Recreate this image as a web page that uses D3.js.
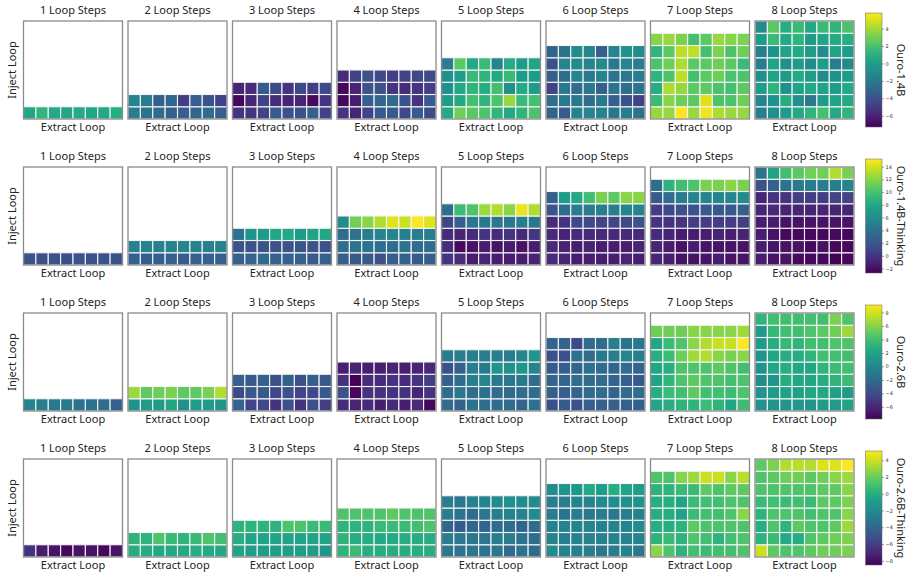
<!DOCTYPE html>
<html>
<head>
<meta charset="utf-8">
<script src="https://cdn.jsdelivr.net/npm/d3@7"></script>
<style>
  body { margin: 0; background: #fff; }
  svg { font-family: "Noto Sans", "Open Sans", sans-serif; }
</style>
</head>
<body>
<svg width="914" height="578"></svg>
<script>
// Each model: 8 panels (1..8 loop steps); each panel lists inject-loop rows
// from bottom to top, every row holding 8 extract-loop values.
const stepLabels = ["1 Loop Steps", "2 Loop Steps", "3 Loop Steps", "4 Loop Steps",
    "5 Loop Steps", "6 Loop Steps", "7 Loop Steps", "8 Loop Steps"];
const modelNames = ["Ouro-1.4B", "Ouro-1.4B-Thinking", "Ouro-2.6B", "Ouro-2.6B-Thinking"];
const colorDomains = [[-7.3, 5.8], [-2.7, 15.2], [-7.8, 9.1], [-8.5, 5.1]];

const ouro14B = [
    [[0.4, 1.2, 0.6, 0.5, 0.7, 0.5, 0.6, 0.8]],
    [[-1.8, -2.3, -2.7, -3.4, -3.4, -3.1, -2.7, -3.4],
     [-1.4, -1.8, -3.4, -3.0, -4.9, -3.4, -4.0, -4.7]],
    [[-5.3, -5.3, -4.7, -3.6, -4.0, -4.0, -3.4, -4.7],
     [-7.0, -6.0, -4.7, -5.7, -6.0, -6.0, -6.9, -5.3],
     [-6.0, -5.7, -3.6, -4.4, -5.3, -4.4, -4.9, -4.4]],
    [[-5.3, -6.0, -4.7, -3.6, -3.6, -4.4, -3.6, -4.4],
     [-7.0, -6.3, -3.4, -3.1, -2.7, -4.0, -5.3, -3.6],
     [-7.0, -6.0, -4.0, -4.0, -5.3, -5.7, -5.3, -4.9],
     [-5.7, -4.7, -4.0, -4.4, -4.9, -4.7, -4.4, -4.4]],
    [[0.6, 2.9, 2.5, 2.1, 1.2, 0.6, 1.2, 2.1],
     [-0.1, 0.6, 1.9, 1.2, 2.1, 3.8, 1.6, 1.9],
     [-0.8, 0.6, 1.2, 0.8, 1.9, -0.8, 0.6, -0.1],
     [-0.8, -0.1, 1.6, 1.2, 0.6, 1.6, -0.1, -0.1],
     [-1.8, 2.5, 0.6, 1.6, -1.4, 0.8, -0.1, 0.3]],
    [[-3.1, -3.6, -1.4, -1.4, -1.4, -2.1, -1.8, -2.3],
     [-2.7, -2.1, -2.1, -2.7, -2.1, -3.4, -4.0, -4.7],
     [-4.7, -2.1, -2.7, -2.1, -3.4, -2.3, -2.7, -2.3],
     [-3.4, -2.7, -1.4, -2.1, -1.4, -2.3, -2.1, -1.8],
     [-4.0, -1.4, -1.0, -1.4, -1.0, -2.1, -1.4, -1.8],
     [-3.1, -2.3, -1.0, -1.4, -3.4, -1.4, -0.5, -1.0]],
    [[3.8, 3.8, 5.8, 3.8, 5.5, 4.2, 3.8, 3.8],
     [1.6, 3.4, 2.9, 2.5, 5.1, 2.1, 2.1, 2.9],
     [0.8, 4.2, 3.8, 2.5, 2.5, 2.1, 1.9, 2.5],
     [1.2, 2.1, 4.5, 1.9, 2.5, 2.9, 2.1, 2.1],
     [2.1, 2.9, 4.2, 2.5, 2.5, 2.9, 2.5, 1.6],
     [1.2, 2.5, 4.5, 4.5, 1.9, 3.2, 2.1, 2.9],
     [3.4, 3.8, 3.2, 1.9, 2.5, 3.8, 3.4, 3.2]],
    [[-1.8, -0.8, -0.1, 0.6, 1.2, 1.9, 0.6, 1.2],
     [-1.4, -0.5, 0.8, -0.8, -2.1, -0.1, 0.3, 0.6],
     [-0.1, 1.2, -0.8, 0.3, 0.6, 0.3, -0.1, 0.6],
     [-0.8, 0.3, -0.1, 0.6, -0.1, -1.0, -0.5, -0.1],
     [-1.8, 0.3, -0.8, -0.1, -1.0, -0.1, -1.8, -1.0],
     [-1.8, -0.5, 0.3, 0.6, -0.1, -1.0, 0.3, -0.1],
     [-0.1, 1.6, 0.6, 1.2, -0.1, 0.3, 0.6, 0.8],
     [-1.0, 2.5, 0.8, 1.6, 0.6, 1.6, 1.2, 2.1]]
];

const ouro14BThinking = [
    [[1.9, 1.7, 1.8, 1.6, 1.8, 1.7, 1.8, 1.9]],
    [[2.7, 2.5, 2.7, 2.9, 2.6, 2.7, 2.8, 2.7],
     [5.2, 5.4, 5.0, 5.3, 5.4, 5.2, 5.0, 5.3]],
    [[2.7, 3.0, 3.6, 2.7, 2.7, 2.7, 2.3, 2.7],
     [1.8, 1.8, 1.8, 1.9, 1.8, 2.1, 1.8, 1.8],
     [4.1, 6.6, 7.1, 8.0, 8.0, 7.1, 7.7, 8.0]],
    [[2.7, 2.3, 2.3, 1.8, 2.7, 2.7, 2.3, 2.7],
     [3.6, 4.1, 4.1, 3.6, 3.6, 4.1, 3.6, 3.6],
     [3.6, 4.1, 4.8, 5.4, 5.4, 4.8, 4.8, 4.8],
     [5.9, 11.3, 12.0, 13.1, 14.3, 13.8, 15.2, 14.3]],
    [[0.0, -0.6, -1.3, -0.9, -1.3, -1.3, -1.3, -0.9],
     [-0.6, -2.3, -1.8, -1.3, -1.8, -1.3, -1.8, -1.3],
     [-0.6, -0.9, -0.6, 0.0, -0.6, 0.0, -0.6, 0.0],
     [0.9, 2.7, 4.5, 4.5, 4.5, 4.5, 4.8, 4.5],
     [3.6, 9.5, 10.2, 12.5, 13.1, 12.0, 14.7, 13.1]],
    [[-0.6, -0.9, -1.3, -1.3, -1.3, -1.3, -0.9, -1.3],
     [-0.6, -0.9, -1.3, -0.9, -1.3, -1.3, -1.3, -0.9],
     [-0.6, -0.9, -0.6, -0.6, -0.6, -0.6, -0.6, -0.6],
     [-0.6, 0.0, 1.2, 1.2, 0.9, 0.9, 1.2, 1.8],
     [1.8, 3.6, 4.8, 4.8, 4.8, 4.8, 5.4, 5.4],
     [2.7, 7.1, 8.0, 9.8, 11.6, 10.7, 12.0, 12.0]],
    [[-0.9, -1.3, -1.8, -1.8, -1.8, -1.3, -1.8, -1.8],
     [-0.9, -1.3, -1.8, -1.3, -1.8, -1.8, -1.8, -1.8],
     [-0.6, -0.9, -1.3, -1.3, -1.3, -0.9, -1.3, -0.9],
     [0.0, 0.0, 0.0, 0.5, 0.5, 0.5, 0.5, 0.5],
     [0.5, 1.2, 1.8, 1.8, 2.3, 2.3, 2.3, 2.7],
     [2.3, 3.6, 4.8, 5.4, 5.4, 5.4, 5.4, 5.9],
     [3.6, 8.9, 9.8, 10.2, 11.6, 11.6, 12.0, 11.6]],
    [[-1.3, -1.8, -1.8, -2.3, -2.3, -2.3, -2.7, -2.3],
     [-1.3, -1.8, -1.8, -1.8, -2.3, -1.8, -2.3, -2.3],
     [-1.3, -1.8, -2.3, -2.3, -2.3, -2.3, -2.3, -2.3],
     [-1.3, -1.3, -1.8, -1.8, -1.8, -1.8, -1.8, -1.8],
     [-0.9, -0.6, -0.9, -0.9, -0.9, -0.9, -0.9, -0.9],
     [-0.9, 0.0, 0.0, 0.5, 0.5, 0.5, 0.9, 0.9],
     [1.8, 2.7, 4.1, 4.5, 4.8, 4.8, 4.8, 5.4],
     [4.1, 7.7, 9.8, 10.7, 11.3, 11.3, 13.1, 11.6]]
];

const ouro26B = [
    [[-0.2, -0.7, -1.0, -1.0, -1.4, -1.4, -1.9, -2.7]],
    [[0.7, 1.5, 1.5, 2.3, 0.7, 1.5, 1.5, 1.0],
     [6.6, 4.9, 5.4, 5.7, 4.9, 4.9, 5.7, 7.1]],
    [[-2.4, -4.4, -4.1, -5.3, -3.6, -5.3, -3.6, -4.8],
     [-4.1, -3.1, -3.1, -4.1, -3.6, -4.4, -4.1, -3.1],
     [-2.7, -3.1, -2.7, -3.6, -2.7, -3.6, -2.7, -3.1]],
    [[-5.8, -6.1, -5.8, -6.4, -5.8, -6.4, -5.8, -7.5],
     [-3.6, -7.5, -5.3, -5.3, -5.3, -5.3, -6.1, -5.3],
     [-5.3, -7.8, -5.8, -5.8, -5.3, -5.8, -5.3, -4.8],
     [-6.4, -6.1, -6.4, -6.4, -6.1, -6.4, -6.1, -5.8]],
    [[-1.9, -2.7, -1.4, -1.9, -1.9, -1.9, -2.4, -1.4],
     [-1.9, -1.0, -1.9, -1.4, -1.9, -1.9, -1.9, -1.9],
     [-2.7, -1.9, -0.7, -0.2, -1.0, -1.0, -1.0, -1.9],
     [-3.6, -2.7, -0.7, -1.0, 1.0, 0.7, 1.0, -0.2],
     [-0.7, -0.7, -0.7, -0.7, -0.7, -0.7, -0.2, 1.0]],
    [[-3.6, -3.1, -3.6, -2.7, -2.7, -2.7, -2.7, -2.7],
     [-2.7, -2.7, -2.4, -1.9, -1.9, -2.4, -1.9, -1.9],
     [-2.4, -2.4, -1.9, -1.9, -1.9, -2.4, -2.7, -3.1],
     [-3.1, -2.7, -2.4, -1.4, -1.9, -2.4, -1.9, -2.4],
     [-3.6, -3.6, -1.4, -1.9, -1.0, -0.7, -0.2, -0.7],
     [-2.4, -2.4, -4.1, -1.9, -1.9, -0.7, -1.4, -1.0]],
    [[2.3, 2.7, 3.2, 3.2, 3.7, 3.2, 2.3, 3.7],
     [2.7, 3.7, 4.0, 4.9, 4.0, 4.0, 3.7, 4.4],
     [2.0, 3.2, 4.4, 4.9, 4.4, 4.4, 4.0, 4.4],
     [2.3, 2.7, 4.4, 4.4, 4.4, 4.9, 4.4, 4.0],
     [2.7, 3.7, 5.4, 6.6, 7.1, 6.1, 5.7, 6.1],
     [2.3, 3.7, 4.4, 6.1, 7.1, 7.7, 7.7, 9.1],
     [5.4, 5.4, 5.4, 6.1, 6.1, 6.1, 6.1, 6.6]],
    [[0.9, 1.0, 1.0, 1.2, 1.0, 1.5, 1.5, 2.0],
     [0.9, 1.5, 1.8, 1.8, 2.3, 2.3, 1.8, 1.5],
     [0.5, 1.0, 2.7, 2.3, 2.3, 2.7, 3.2, 3.7],
     [0.9, 2.3, 2.7, 2.3, 2.3, 3.2, 3.7, 4.0],
     [0.9, 2.3, 2.7, 2.7, 3.2, 4.0, 4.0, 4.0],
     [1.5, 2.7, 3.5, 3.2, 4.0, 4.0, 4.4, 4.4],
     [1.5, 3.5, 4.0, 4.0, 4.4, 4.9, 5.4, 6.6],
     [3.2, 4.0, 4.0, 4.0, 4.0, 4.0, 5.7, 4.4]]
];

const ouro26BThinking = [
    [[-6.5, -7.4, -7.8, -8.2, -7.8, -7.8, -8.2, -7.8]],
    [[-0.1, -0.1, -0.3, -0.3, -0.3, -0.1, -0.3, -0.3],
     [0.3, 0.3, 1.3, 0.7, 0.3, 0.7, 1.3, 1.0]],
    [[-0.6, -1.0, -1.0, -1.0, -1.0, -1.0, -1.0, -1.4],
     [-0.1, -0.6, -0.6, -0.6, -0.6, -0.6, -0.6, -0.6],
     [0.3, 0.3, 0.3, 0.3, 1.3, 1.3, 0.7, 0.7]],
    [[0.3, 0.7, -0.1, -0.1, -0.1, -0.1, -0.1, -0.1],
     [0.3, -0.1, -0.1, -0.3, -0.3, -0.1, -0.1, -0.1],
     [0.3, 0.3, 0.3, 0.7, 0.7, 0.7, 1.0, 1.3],
     [1.3, 1.3, 1.3, 1.3, 1.7, 1.3, 1.3, 1.3]],
    [[-3.1, -3.3, -3.1, -3.3, -3.1, -3.7, -3.3, -3.7],
     [-2.8, -3.1, -3.1, -3.1, -2.8, -2.8, -3.3, -3.7],
     [-4.1, -4.7, -4.1, -4.1, -3.7, -3.7, -4.1, -3.7],
     [-2.8, -3.3, -3.7, -3.1, -2.8, -2.4, -2.4, -2.0],
     [-2.8, -3.1, -2.4, -2.4, -2.0, -1.7, -2.0, -2.0]],
    [[-2.0, -2.4, -2.8, -2.8, -3.1, -2.8, -2.4, -3.1],
     [-2.4, -2.8, -2.4, -2.4, -2.4, -2.4, -2.4, -2.4],
     [-2.4, -2.4, -2.4, -2.4, -2.4, -2.4, -2.4, -2.0],
     [-2.8, -3.3, -2.8, -3.1, -2.8, -3.1, -2.8, -2.4],
     [-2.8, -2.8, -2.4, -2.4, -2.0, -2.0, -1.7, -1.7],
     [-2.0, -1.4, -1.4, -0.3, -1.0, -0.1, -0.6, -1.0]],
    [[2.7, 1.3, 0.3, 1.0, 0.7, 1.0, 1.0, 1.3],
     [0.3, 0.7, 0.3, 1.3, 1.0, 0.3, 1.0, 1.3],
     [-0.1, -0.1, 0.3, 1.7, 1.3, 1.3, 1.3, 1.3],
     [-0.1, -0.1, -0.6, 0.7, 1.0, 1.0, 1.3, 2.7],
     [-0.1, -0.1, -0.6, 0.7, 1.0, 1.0, 1.3, 1.3],
     [0.3, 0.3, 0.7, 0.7, 1.7, 1.3, 1.7, 1.7],
     [1.3, 1.3, 2.7, 3.1, 4.0, 4.0, 2.7, 3.7]],
    [[4.0, 1.7, 1.3, 1.3, 1.7, 2.1, 2.1, 2.4],
     [0.3, 0.7, -0.3, -0.1, 1.3, 1.7, 2.1, 2.4],
     [-0.1, 1.3, 0.3, 1.7, 1.3, 1.3, 1.7, 3.1],
     [0.3, 1.3, 1.3, 1.3, 1.0, 1.3, 1.3, 2.7],
     [0.7, 1.0, 0.7, 1.0, 0.7, 1.7, 1.7, 2.4],
     [1.3, 1.3, 1.3, 1.3, 1.3, 1.7, 1.7, 2.7],
     [1.3, 1.7, 2.1, 2.1, 1.7, 2.1, 2.7, 3.1],
     [1.7, 2.4, 3.5, 3.7, 3.5, 4.4, 4.4, 5.1]]
];

const models = [ouro14B, ouro14BThinking, ouro26B, ouro26BThinking];

// layout
const panelW = 99, panelH = 98;
const colX = d3.scaleLinear().domain([0, 7]).range([23.5, 755]);
const rowY = d3.scaleLinear().domain([0, 3]).range([21, 459]);
const cbX = 865.5, cbW = 16.5;

const svg = d3.select("svg");

// gradient for the colorbars
const grad = svg.append("defs").append("linearGradient")
    .attr("id", "viridis")
    .attr("x1", "0%").attr("y1", "100%")
    .attr("x2", "0%").attr("y2", "0%");
d3.range(0, 1.0001, 0.05).forEach(t => {
    grad.append("stop")
        .attr("offset", (t * 100) + "%")
        .attr("stop-color", d3.interpolateViridis(t));
});

models.forEach((model, m) => {
    const top = rowY(m);
    const color = d3.scaleSequential(d3.interpolateViridis).domain(colorDomains[m]);

    model.forEach((panel, p) => {
        const left = colX(p);
        const g = svg.append("g").attr("transform", "translate(" + left + "," + top + ")");

        const x = d3.scaleBand().domain(d3.range(8)).range([0, panelW]);
        // inject loop index 0 at bottom
        const y = d3.scaleBand().domain(d3.range(8)).range([panelH, 0]);

        const cells = [];
        panel.forEach((row, r) => {
            row.forEach((v, c) => cells.push({ r: r, c: c, v: v }));
        });

        g.selectAll("rect.cell")
            .data(cells)
            .enter()
            .append("rect")
            .attr("class", "cell")
            .attr("x", d => x(d.c))
            .attr("y", d => y(d.r))
            .attr("width", x.bandwidth())
            .attr("height", y.bandwidth())
            .attr("fill", d => color(d.v))
            .attr("stroke", "#f4f4f4")
            .attr("stroke-width", 1.1);

        // frame
        g.append("rect")
            .attr("width", panelW)
            .attr("height", panelH)
            .attr("fill", "none")
            .attr("stroke", "#8a8a8a")
            .attr("stroke-width", 1.3);

        g.append("text")
            .attr("x", panelW / 2)
            .attr("y", -7)
            .attr("text-anchor", "middle")
            .style("font-size", "11px")
            .attr("fill", "#222")
            .text(stepLabels[p]);

        g.append("text")
            .attr("x", panelW / 2)
            .attr("y", panelH + 12)
            .attr("text-anchor", "middle")
            .style("font-size", "11px")
            .attr("fill", "#222")
            .text("Extract Loop");
    });

    // y label on the first column
    svg.append("text")
        .attr("transform", "translate(16," + (top + panelH / 2) + ") rotate(-90)")
        .attr("text-anchor", "middle")
        .style("font-size", "11px")
        .attr("fill", "#222")
        .text("Inject Loop");

    // colorbar
    const cbTop = top - 8, cbH = panelH + 16;
    svg.append("rect")
        .attr("x", cbX).attr("y", cbTop)
        .attr("width", cbW).attr("height", cbH)
        .attr("fill", "url(#viridis)")
        .attr("stroke", "#666")
        .attr("stroke-width", 0.5);

    const cbScale = d3.scaleLinear().domain(colorDomains[m]).range([cbTop + cbH, cbTop]);
    const axis = svg.append("g")
        .attr("transform", "translate(" + (cbX + cbW) + ",0)")
        .call(d3.axisRight(cbScale).ticks(6).tickSize(2).tickPadding(1.5));
    axis.select(".domain").remove();
    axis.selectAll(".tick line").attr("stroke", "#444").attr("stroke-width", 0.5);
    axis.selectAll(".tick text")
        .style("font-size", "5px")
        .style("font-family", "DejaVu Sans, sans-serif")
        .attr("fill", "#333");

    svg.append("text")
        .attr("transform", "translate(897," + (cbTop + cbH / 2) + ") rotate(90)")
        .attr("text-anchor", "middle")
        .style("font-size", "11px")
        .attr("fill", "#222")
        .text(modelNames[m]);
});
</script>
</body>
</html>
